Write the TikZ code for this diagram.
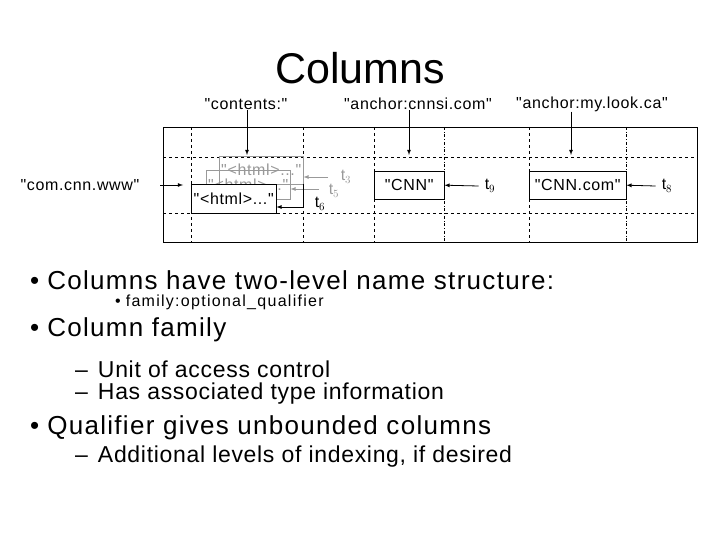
\documentclass[tikz,border=0pt]{standalone}
\usepackage{fontspec}
\setmainfont[Ligatures=TeXReset]{Liberation Sans}
\newcommand\qq{\symbol{34}}
\begin{document}
\begin{tikzpicture}[x=1pt,y=-1pt,
  lab/.style={font=\fontsize{16}{18}\selectfont\addfontfeature{LetterSpace=4},inner sep=0},
  cell/.style={draw,font=\fontsize{16}{18}\selectfont\addfontfeature{LetterSpace=4},inner sep=0},
  gcell/.style={draw=gray!80,text=gray!80,font=\fontsize{16}{18}\selectfont\addfontfeature{LetterSpace=4},inner sep=0},
  arr/.style={-latex,thick},
  garr/.style={-latex,thick,gray!80},
  b1/.style={anchor=west,font=\fontsize{26}{30}\selectfont\addfontfeature{LetterSpace=5},inner sep=0},
  b2/.style={anchor=west,font=\fontsize{16}{18}\selectfont\addfontfeature{LetterSpace=8},inner sep=0},
  b3/.style={anchor=west,font=\fontsize{23}{26}\selectfont\addfontfeature{LetterSpace=3},inner sep=0}]
\useasboundingbox (0,0) rectangle (720,540);
\node[font=\fontsize{43}{48}\selectfont] (title) at (360,68) {Columns};
% grid
\draw[thick] (163,127) rectangle (697,242);
\draw[dashed] (163,157) -- (697,157) (163,213) -- (697,213);
\foreach \x in {191,303,374,529} \draw[dashed] (\x,127) -- (\x,242);
\foreach \x in {444,626} \draw[dash dot] (\x,127) -- (\x,242);
% cells
\node[gcell,minimum width=84,minimum height=28,anchor=north west] (g1) at (219,156) {\qq<html>...\qq};
\node[gcell,minimum width=84,minimum height=29,anchor=north west] (g2) at (206,170) {\qq<html>...\qq};
\node[cell,fill=white,minimum width=85,minimum height=29,anchor=north west] (c1) at (191,184) {\qq<html>...\qq};
\node[cell,minimum width=70,minimum height=28,anchor=north west] (cnn) at (374,171) {\qq CNN\qq};
\node[cell,minimum width=97,minimum height=28,anchor=north west] (cnncom) at (529,171) {\qq CNN.com\qq};
% column labels
\node[lab] (l1) at (246,104) {\qq contents:\qq};
\node[lab] (l2) at (418,104) {\qq anchor:cnnsi.com\qq};
\node[lab] (l3) at (592,104) {\qq anchor:my.look.ca\qq};
\coordinate (a1) at (247,155);
\coordinate (a2) at (409,155);
\coordinate (a3) at (571,155);
\draw[arr] (l1.south -| a1) -- (a1);
\draw[arr] (l2.south -| a2) -- (a2);
\draw[arr] (l3.south -| a3) -- (a3);
% row label
\node[lab] (row) at (80,185) {\qq com.cnn.www\qq};
\coordinate (rs) at (160,185);
\coordinate (re) at (183,185);
\draw[arr] (rs) -- (re);
% timestamps
\node[lab,text=gray!80] (t3) at (346,177) {t$_3$};
\node[lab,text=gray!80] (t5) at (334,191) {t$_5$};
\node[lab] (t6) at (320,204) {t$_6$};
\node[lab] (t9) at (490,186) {t$_9$};
\node[lab] (t8) at (667,186) {t$_8$};
\coordinate (p3) at (328,177);
\draw[garr] (p3) -- (g1.east |- p3);
\coordinate (p5) at (319,189);
\draw[garr] (p5) -- (g2.east |- p5);
\draw[arr] (303,184) -- (303,207) -- (c1.east |- 0,207);
\draw[arr] (t9.west) ++(-6,0) -- (cnn.east);
\draw[arr] (t8.west) ++(-6,0) -- (cnncom.east);
% bullets
\node[b1] (i1) at (30,280) {•\hspace{8pt}Columns have two-level name structure:};
\node[b2] (i2) at (115,302) {•\hspace{5pt}family:optional\_qualifier};
\node[b1] (i3) at (30,330) {•\hspace{8pt}Column family};
\node[b3] (i4) at (75,369) {–\hspace{10pt}Unit of access control};
\node[b3] (i5) at (75,394) {–\hspace{10pt}Has associated type information};
\node[b1] (i6) at (30,428) {•\hspace{8pt}Qualifier gives unbounded columns};
\node[b3] (i7) at (75,457) {–\hspace{10pt}Additional levels of indexing, if desired};
\end{tikzpicture}
\end{document}
